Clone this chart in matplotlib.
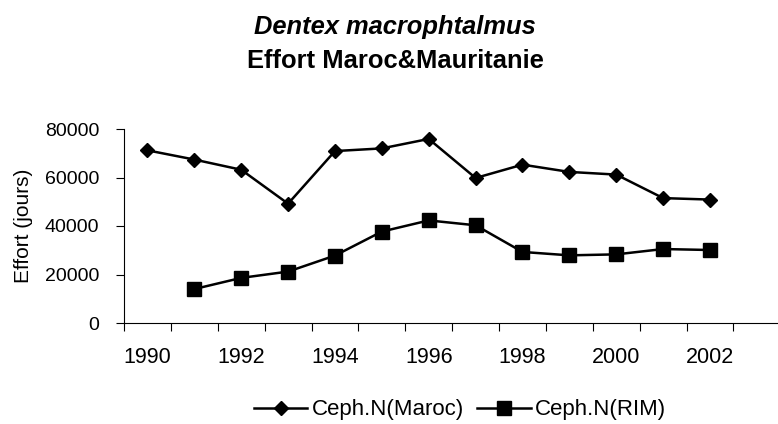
import matplotlib
matplotlib.use("Agg")
import matplotlib.pyplot as plt

plt.rcParams['font.family'] = ['Liberation Sans', 'DejaVu Sans']

# Effort data
years = list(range(1990, 2003))
maroc = [71200, 67400, 63200, 49200, 70900, 72000, 75900,
         59800, 65300, 62300, 61200, 51500, 50900]
rim_years = list(range(1991, 2003))
rim = [14000, 18600, 21200, 27800, 37700, 42300,
       40300, 29300, 27900, 28300, 30500, 30100]
label_years = [1990, 1992, 1994, 1996, 1998, 2000, 2002]

fig = plt.figure(figsize=(7.78, 4.24), dpi=100)
ax = fig.add_axes([124 / 778, 101 / 424, 654 / 778, 194 / 424])

ax.plot(years, maroc, color='black', lw=1.8, marker='D', markersize=7.5,
        label='Ceph.N(Maroc)')
ax.plot(rim_years, rim, color='black', lw=1.8, marker='s', markersize=10,
        label='Ceph.N(RIM)')

ax.set_xlim(1989.5, 2003.45)
ax.set_ylim(0, 80000)
ax.set_yticks([0, 20000, 40000, 60000, 80000])
ax.tick_params(axis='y', labelsize=14, length=6, pad=12)

# category boundaries carry the tick marks, labels sit in the middle
ax.set_xticks([y - 0.5 for y in range(1990, 2004)])
ax.set_xticklabels([])
ax.tick_params(axis='x', which='major', length=6)
ax.set_xticks(label_years, minor=True)
ax.set_xticklabels([str(y) for y in label_years], minor=True)
ax.tick_params(axis='x', which='minor', length=0, pad=17, labelsize=15.5)

for s in ['top', 'right']:
    ax.spines[s].set_visible(False)
ax.set_ylabel('Effort (jours)', fontsize=15)
ax.yaxis.set_label_coords((33 - 124) / 654, 0.5)

fig.text(395 / 778, 1 - 27 / 424, 'Dentex macrophtalmus', ha='center',
         va='center', fontsize=18.4, fontweight='bold', fontstyle='italic')
fig.text(395 / 778, 1 - 61 / 424, 'Effort Maroc&Mauritanie', ha='center',
         va='center', fontsize=18.4, fontweight='bold')

fig.legend(loc='center', bbox_to_anchor=(460 / 778, 1 - 410 / 424), ncol=2,
           frameon=False, fontsize=16, handlelength=2.4, handletextpad=0.2,
           columnspacing=0.6)

fig.savefig('out.png', dpi=100)
